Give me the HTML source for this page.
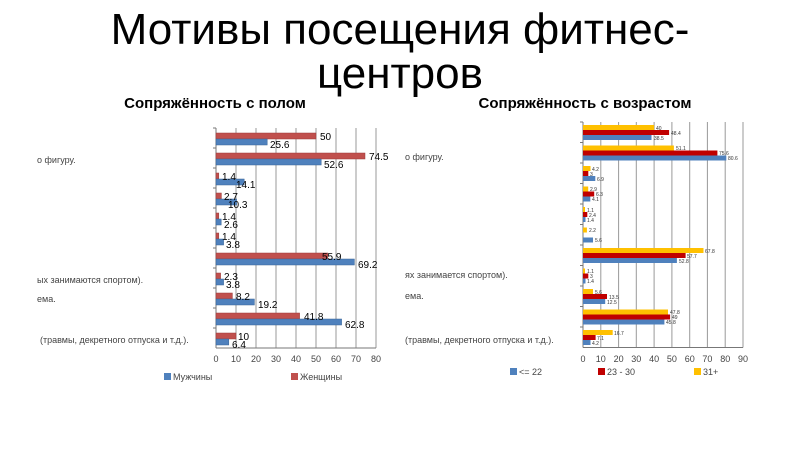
<!DOCTYPE html>
<html><head><meta charset="utf-8"><style>
html,body{margin:0;padding:0;background:#fff;width:800px;height:450px;overflow:hidden}
svg{display:block;font-family:"Liberation Sans","DejaVu Sans",sans-serif}
</style></head><body>
<svg width="800" height="450" viewBox="0 0 800 450" xmlns="http://www.w3.org/2000/svg">
<text x="400" y="44" font-size="44" text-anchor="middle" fill="#000">Мотивы посещения фитнес-</text>
<text x="400" y="88" font-size="44" text-anchor="middle" fill="#000">центров</text>
<text x="215" y="108" font-size="15" font-weight="bold" text-anchor="middle">Сопряжённость с полом</text>
<text x="585" y="108" font-size="15" font-weight="bold" text-anchor="middle">Сопряжённость с возрастом</text>

<!-- LEFT CHART -->
<g stroke="#999" stroke-width="1">
<line x1="236" y1="128" x2="236" y2="348"/><line x1="256" y1="128" x2="256" y2="348"/><line x1="276" y1="128" x2="276" y2="348"/><line x1="296" y1="128" x2="296" y2="348"/><line x1="316" y1="128" x2="316" y2="348"/><line x1="336" y1="128" x2="336" y2="348"/><line x1="356" y1="128" x2="356" y2="348"/><line x1="376" y1="128" x2="376" y2="348"/>
</g>
<g stroke="#777" stroke-width="1">
<line x1="216" y1="128" x2="216" y2="348"/><line x1="216" y1="348" x2="376" y2="348"/>
<line x1="213" y1="128" x2="216" y2="128"/><line x1="213" y1="148" x2="216" y2="148"/><line x1="213" y1="168" x2="216" y2="168"/><line x1="213" y1="188" x2="216" y2="188"/><line x1="213" y1="208" x2="216" y2="208"/><line x1="213" y1="228" x2="216" y2="228"/><line x1="213" y1="248" x2="216" y2="248"/><line x1="213" y1="268" x2="216" y2="268"/><line x1="213" y1="288" x2="216" y2="288"/><line x1="213" y1="308" x2="216" y2="308"/><line x1="213" y1="328" x2="216" y2="328"/>
</g>
<g fill="#c0504d" stroke="#9b3b38" stroke-width="0.5">
<rect x="216" y="133" width="100" height="6"/><rect x="216" y="153" width="149" height="6"/><rect x="216" y="173" width="2.8" height="6"/><rect x="216" y="193" width="5.4" height="6"/><rect x="216" y="213" width="2.8" height="6"/><rect x="216" y="233" width="2.8" height="6"/><rect x="216" y="253" width="111.8" height="6"/><rect x="216" y="273" width="4.6" height="6"/><rect x="216" y="293" width="16.4" height="6"/><rect x="216" y="313" width="83.6" height="6"/><rect x="216" y="333" width="20" height="6"/>
</g>
<g fill="#4f81bd" stroke="#3a6496" stroke-width="0.5">
<rect x="216" y="139" width="51.2" height="6"/><rect x="216" y="159" width="105.2" height="6"/><rect x="216" y="179" width="28.2" height="6"/><rect x="216" y="199" width="20.6" height="6"/><rect x="216" y="219" width="5.2" height="6"/><rect x="216" y="239" width="7.6" height="6"/><rect x="216" y="259" width="138.4" height="6"/><rect x="216" y="279" width="7.6" height="6"/><rect x="216" y="299" width="38.4" height="6"/><rect x="216" y="319" width="125.6" height="6"/><rect x="216" y="339" width="12.8" height="6"/>
</g>
<g font-size="10" fill="#000">
<text x="320" y="140">50</text><text x="270" y="148">25.6</text>
<text x="369" y="160">74.5</text><text x="324" y="168">52.6</text>
<text x="222" y="180">1.4</text><text x="236" y="188">14.1</text>
<text x="224" y="200">2.7</text><text x="228" y="208">10.3</text>
<text x="222" y="220">1.4</text><text x="224" y="228">2.6</text>
<text x="222" y="240">1.4</text><text x="226" y="248">3.8</text>
<text x="322" y="260">55.9</text><text x="358" y="268">69.2</text>
<text x="224" y="280">2.3</text><text x="226" y="288">3.8</text>
<text x="236" y="300">8.2</text><text x="258" y="308">19.2</text>
<text x="304" y="320">41.8</text><text x="345" y="328">62.8</text>
<text x="238" y="340">10</text><text x="232" y="348">6.4</text>
</g>
<g font-size="9" fill="#444">
<text x="37" y="163">о фигуру.</text>
<text x="37" y="283">ых занимаются спортом).</text>
<text x="37" y="302">ема.</text>
<text x="40" y="343">(травмы, декретного отпуска и т.д.).</text>
</g>
<g font-size="9" fill="#444" text-anchor="middle">
<text x="216" y="362">0</text><text x="236" y="362">10</text><text x="256" y="362">20</text><text x="276" y="362">30</text><text x="296" y="362">40</text><text x="316" y="362">50</text><text x="336" y="362">60</text><text x="356" y="362">70</text><text x="376" y="362">80</text>
</g>
<rect x="164" y="373" width="7" height="7" fill="#4f81bd"/><text x="173" y="380" font-size="9" fill="#444">Мужчины</text>
<rect x="291" y="373" width="7" height="7" fill="#c0504d"/><text x="300" y="380" font-size="9" fill="#444">Женщины</text>

<!-- RIGHT CHART -->
<g stroke="#999" stroke-width="1">
<line x1="600.8" y1="122" x2="600.8" y2="347.5"/><line x1="618.6" y1="122" x2="618.6" y2="347.5"/><line x1="636.3" y1="122" x2="636.3" y2="347.5"/><line x1="654.1" y1="122" x2="654.1" y2="347.5"/><line x1="671.9" y1="122" x2="671.9" y2="347.5"/><line x1="689.7" y1="122" x2="689.7" y2="347.5"/><line x1="707.4" y1="122" x2="707.4" y2="347.5"/><line x1="725.2" y1="122" x2="725.2" y2="347.5"/><line x1="743" y1="122" x2="743" y2="347.5"/>
</g>
<g stroke="#777" stroke-width="1">
<line x1="583" y1="122" x2="583" y2="347.5"/><line x1="583" y1="347.5" x2="743" y2="347.5"/>
<line x1="580" y1="122" x2="583" y2="122"/><line x1="580" y1="142.5" x2="583" y2="142.5"/><line x1="580" y1="163" x2="583" y2="163"/><line x1="580" y1="183.5" x2="583" y2="183.5"/><line x1="580" y1="204" x2="583" y2="204"/><line x1="580" y1="224.5" x2="583" y2="224.5"/><line x1="580" y1="245" x2="583" y2="245"/><line x1="580" y1="265.5" x2="583" y2="265.5"/><line x1="580" y1="286" x2="583" y2="286"/><line x1="580" y1="306.5" x2="583" y2="306.5"/><line x1="580" y1="327" x2="583" y2="327"/>
</g>
<g fill="#ffc000">
<rect x="583" y="125" width="71.1" height="5"/><rect x="583" y="145.5" width="90.9" height="5"/><rect x="583" y="166" width="7.5" height="5"/><rect x="583" y="186.5" width="5.2" height="5"/><rect x="583" y="207" width="2" height="5"/><rect x="583" y="227.5" width="3.9" height="5"/><rect x="583" y="248" width="120.5" height="5"/><rect x="583" y="268.5" width="2" height="5"/><rect x="583" y="289" width="10" height="5"/><rect x="583" y="309.5" width="85" height="5"/><rect x="583" y="330" width="29.7" height="5"/>
</g>
<g fill="#c00000">
<rect x="583" y="130" width="86.1" height="5"/><rect x="583" y="150.5" width="134.4" height="5"/><rect x="583" y="171" width="5.3" height="5"/><rect x="583" y="191.5" width="11.2" height="5"/><rect x="583" y="212" width="4.3" height="5"/><rect x="583" y="253" width="102.6" height="5"/><rect x="583" y="273.5" width="5.3" height="5"/><rect x="583" y="294" width="24" height="5"/><rect x="583" y="314.5" width="87.1" height="5"/><rect x="583" y="335" width="12.6" height="5"/>
</g>
<g fill="#4f81bd">
<rect x="583" y="135" width="68.5" height="5"/><rect x="583" y="155.5" width="143.3" height="5"/><rect x="583" y="176" width="12.3" height="5"/><rect x="583" y="196.5" width="7.3" height="5"/><rect x="583" y="217" width="2.5" height="5"/><rect x="583" y="237.5" width="10" height="5"/><rect x="583" y="258" width="93.9" height="5"/><rect x="583" y="278.5" width="2.5" height="5"/><rect x="583" y="299" width="22.2" height="5"/><rect x="583" y="319.5" width="81.4" height="5"/><rect x="583" y="340" width="7.5" height="5"/>
</g>
<g font-size="5" fill="#333">
<text x="656" y="130">40</text><text x="671" y="135">48.4</text><text x="654" y="140">38.5</text>
<text x="676" y="150">51.1</text><text x="719" y="155">75.6</text><text x="728" y="160">80.6</text>
<text x="592" y="171">4.2</text><text x="590" y="176">3</text><text x="597" y="181">6.9</text>
<text x="590" y="191">2.9</text><text x="596" y="196">6.3</text><text x="592" y="201">4.1</text>
<text x="587" y="212">1.1</text><text x="589" y="217">2.4</text><text x="587" y="222">1.4</text>
<text x="589" y="232">2.2</text><text x="595" y="242">5.6</text>
<text x="705" y="253">67.8</text><text x="687" y="258">57.7</text><text x="679" y="263">52.8</text>
<text x="587" y="273">1.1</text><text x="590" y="278">3</text><text x="587" y="283">1.4</text>
<text x="595" y="294">5.6</text><text x="609" y="299">13.5</text><text x="607" y="304">12.5</text>
<text x="670" y="314">47.8</text><text x="672" y="319">49</text><text x="666" y="324">45.8</text>
<text x="614" y="335">16.7</text><text x="597" y="340">7.1</text><text x="592" y="345">4.2</text>
</g>
<g font-size="9" fill="#444">
<text x="405" y="160">о фигуру.</text>
<text x="405" y="278">ях занимается спортом).</text>
<text x="405" y="299">ема.</text>
<text x="405" y="343">(травмы, декретного отпуска и т.д.).</text>
</g>
<g font-size="9" fill="#444" text-anchor="middle">
<text x="583" y="362">0</text><text x="600.8" y="362">10</text><text x="618.6" y="362">20</text><text x="636.3" y="362">30</text><text x="654.1" y="362">40</text><text x="671.9" y="362">50</text><text x="689.7" y="362">60</text><text x="707.4" y="362">70</text><text x="725.2" y="362">80</text><text x="743" y="362">90</text>
</g>
<rect x="510" y="368" width="7" height="7" fill="#4f81bd"/><text x="519" y="375" font-size="9" fill="#444">&lt;= 22</text>
<rect x="598" y="368" width="7" height="7" fill="#c00000"/><text x="607" y="375" font-size="9" fill="#444">23 - 30</text>
<rect x="694" y="368" width="7" height="7" fill="#ffc000"/><text x="703" y="375" font-size="9" fill="#444">31+</text>
</svg>
</body></html>
